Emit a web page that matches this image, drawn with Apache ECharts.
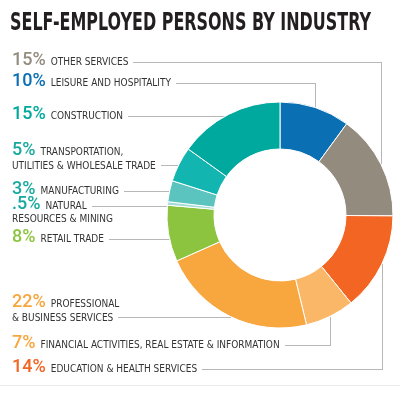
<!DOCTYPE html>
<html>
<head>
<meta charset="utf-8">
<script src="https://cdn.jsdelivr.net/npm/echarts@6/dist/echarts.min.js"></script>
<style>
  html, body { margin: 0; padding: 0; background: #fff; }
  #main { width: 400px; height: 400px; }
</style>
</head>
<body>
<div id="main"></div>
<script>
// data, clockwise from 12 o'clock
var categories = [
  'LEISURE AND HOSPITALITY',
  'OTHER SERVICES',
  'EDUCATION & HEALTH SERVICES',
  'FINANCIAL ACTIVITIES, REAL ESTATE & INFORMATION',
  'PROFESSIONAL\n& BUSINESS SERVICES',
  'RETAIL TRADE',
  'NATURAL\nRESOURCES & MINING',
  'MANUFACTURING',
  'TRANSPORTATION,\nUTILITIES & WHOLESALE TRADE',
  'CONSTRUCTION'
];
var shares = [10, 15, 14, 7, 22, 8, 0.5, 3, 5, 15];

// styles
var sliceColors = ['#0b6fb3', '#948b7f', '#f26522', '#fbb768', '#f8a63e', '#8cc43f', '#a5dcd8', '#5bc4bf', '#13b5b0', '#00a99d'];
var pctColors   = ['#0b6fb3', '#948b7f', '#f26522', '#f8a63e', '#f8a63e', '#8cc43f', '#17a99e', '#17a99e', '#17a99e', '#00a99d'];
// where each leader line runs: 'v' runs along the label row then vertically to the ring,
// 'h' runs straight across; y is the row height of the line, row the label row it leaves from
var leader = [
  { mode: 'v', y: 83, row: 0 }, { mode: 'v', y: 62, row: 0 }, { mode: 'v', y: 369, row: 0 }, { mode: 'v', y: 345, row: 0 },
  { mode: 'h', y: 317, row: 1 }, { mode: 'h', y: 239, row: 0 }, { mode: 'h', y: 206, row: 0 }, { mode: 'h', y: 191, row: 0 },
  { mode: 'h', y: 165, row: 1 }, { mode: 'h', y: 116, row: 0 }
];

var FONT = "'DejaVu Sans Condensed', 'DejaVu Sans', sans-serif";
var PFONT = "Roboto, 'DejaVu Sans', sans-serif";
var BIG = 18, SMALL = 10, PAD = 5;
var ROW_OFF = [13, 25.5];
var LABEL_X = 12;

var measureCtx = document.createElement('canvas').getContext('2d');
function textW(s, font) {
  measureCtx.font = font;
  return measureCtx.measureText(s).width;
}
function pctText(v) {
  return String(v).replace(/^0\./, '.') + '%';
}

var myChart = echarts.init(document.getElementById('main'));

var option = {
  animation: false,
  graphic: [
    {
      type: 'text',
      x: 10, y: 11,
      scaleX: 361 / textW('SELF-EMPLOYED PERSONS BY INDUSTRY', 'bold 25px ' + FONT),
      style: {
        text: 'SELF-EMPLOYED PERSONS BY INDUSTRY',
        font: 'bold 25px ' + FONT,
        fill: '#231f20',
        verticalAlign: 'top'
      }
    },
    {
      type: 'line',
      shape: { x1: 0, y1: 385.5, x2: 400, y2: 385.5 },
      style: { stroke: '#ececec', lineWidth: 1 }
    }
  ],
  series: [
    {
      type: 'pie',
      center: [280, 215],
      radius: [66, 113],
      startAngle: 90,
      clockwise: true,
      avoidLabelOverlap: false,
      silent: true,
      itemStyle: { borderColor: '#fff', borderWidth: 1 },
      data: shares.map(function (v, i) {
        return { name: categories[i], value: v, itemStyle: { color: sliceColors[i] } };
      }),
      label: {
        show: true,
        position: 'outside',
        fontFamily: FONT,
        formatter: function (p) {
          var lines = p.name.split('\n');
          var s = '{p' + p.dataIndex + '|' + pctText(p.value) + '}{n|' + lines[0] + '}';
          if (lines[1]) s += '\n{m|' + lines[1] + '}';
          return s;
        },
        rich: (function () {
          var r = {
            n: { fontFamily: FONT, fontSize: SMALL, color: '#333', lineHeight: 20, verticalAlign: 'bottom', padding: [0, 0, 2, PAD] },
            m: { fontFamily: FONT, fontSize: SMALL, color: '#333', lineHeight: 13 }
          };
          pctColors.forEach(function (c, i) {
            r['p' + i] = { fontFamily: PFONT, fontWeight: 500, fontSize: BIG, color: c, lineHeight: 20, verticalAlign: 'bottom' };
          });
          return r;
        })()
      },
      labelLine: {
        show: true,
        lineStyle: { color: '#6e6e6e', width: 1, type: 'dotted' }
      },
      labelLayout: function (params) {
        var i = params.dataIndex;
        var cfg = leader[i];
        var p0 = params.labelLinePoints[0];
        var lines = categories[i].split('\n');
        var rowW = cfg.row === 0
          ? textW(pctText(shares[i]), '500 ' + BIG + 'px ' + PFONT) + PAD + textW(lines[0], SMALL + 'px ' + FONT)
          : textW(lines[1], SMALL + 'px ' + FONT);
        var startX = Math.round(LABEL_X + rowW + 5) + 0.5;
        var ly = cfg.y + 0.5;
        var lx = Math.round(p0[0]) + 0.5;
        return {
          x: LABEL_X,
          y: cfg.y - ROW_OFF[cfg.row],
          align: 'left',
          verticalAlign: 'top',
          labelLinePoints: [[startX, ly], [lx, ly], [lx, p0[1]]]
        };
      }
    }
  ]
};

myChart.setOption(option);
</script>
</body>
</html>
